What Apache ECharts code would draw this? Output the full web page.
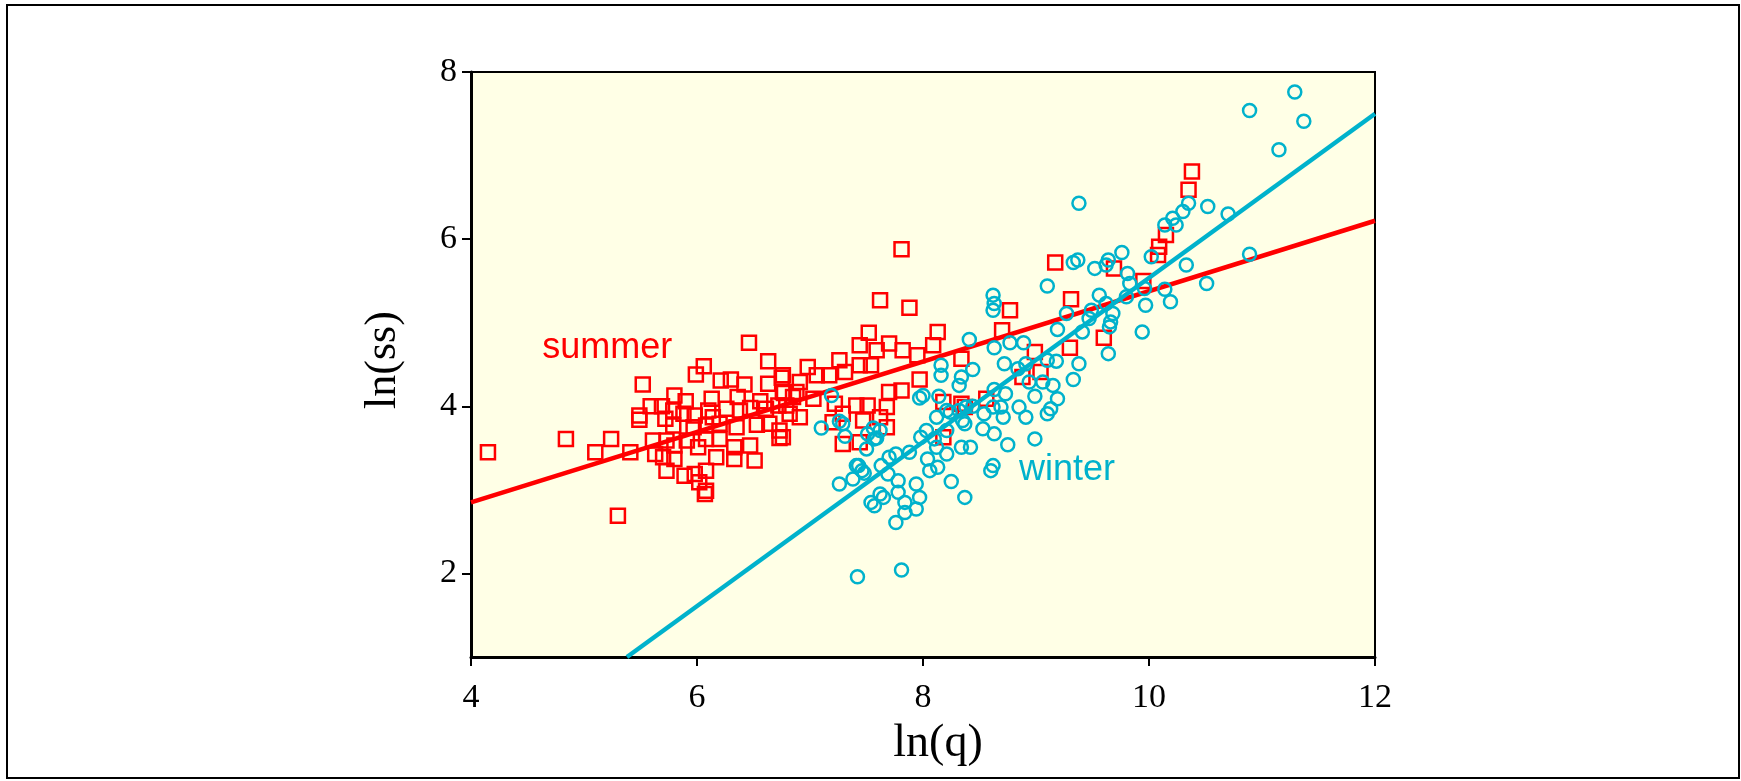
<!DOCTYPE html>
<html>
<head>
<meta charset="utf-8">
<script src="https://cdn.jsdelivr.net/npm/echarts@6/dist/echarts.min.js"></script>
<style>
html,body{margin:0;padding:0;background:#fff;}
#chart{width:1741px;height:781px;}
</style>
</head>
<body>
<div id="chart"></div>
<script>
const xTicks = [4, 6, 8, 10, 12];
const yTicks = [2, 4, 6, 8];
const xTitle = 'ln(q)';
const yTitle = 'ln(ss)';
const summerLabel = 'summer';
const winterLabel = 'winter';

const summerPoints = [
[4.15,3.45],[4.84,3.61],[5.10,3.45],[5.24,3.61],[5.30,2.69],[5.41,3.45],[5.52,4.26],[5.49,3.89],[5.49,3.84],
[5.59,4.00],[5.61,3.59],[5.63,3.43],[5.69,4.00],[5.72,3.85],[5.70,3.39],[5.73,3.59],[5.73,3.23],[5.79,3.95],
[5.79,3.77],[5.80,4.13],[5.80,3.53],[5.80,3.37],[5.88,3.91],[5.89,3.17],[5.90,4.06],[5.91,3.59],[5.97,3.75],
[5.98,3.89],[5.98,3.19],[5.99,4.38],[6.01,3.51],[6.02,3.09],[6.06,4.48],[6.07,2.95],[6.08,2.99],[6.08,3.77],
[6.08,3.61],[6.08,3.23],[6.10,3.95],[6.13,4.09],[6.14,3.87],[6.17,3.39],[6.20,3.79],[6.20,3.61],[6.21,4.31],
[6.26,3.97],[6.30,4.32],[6.33,3.51],[6.33,3.37],[6.35,3.75],[6.36,4.11],[6.38,3.95],[6.42,4.26],[6.46,4.76],
[6.47,3.98],[6.47,3.53],[6.51,3.35],[6.53,3.78],[6.56,4.06],[6.61,3.97],[6.63,4.54],[6.63,4.27],[6.64,3.79],
[6.72,4.01],[6.73,3.71],[6.73,3.62],[6.75,4.34],[6.76,4.37],[6.76,4.17],[6.76,3.63],[6.77,4.16],[6.79,4.01],
[6.82,3.91],[6.85,4.11],[6.88,4.17],[6.91,4.29],[6.91,3.87],[6.98,4.47],[7.03,4.09],[7.06,4.37],[7.17,4.37],
[7.20,3.81],[7.22,4.03],[7.26,4.55],[7.29,3.91],[7.29,3.55],[7.31,4.41],[7.41,4.01],[7.44,4.73],[7.44,4.49],
[7.44,3.57],[7.47,3.83],[7.51,4.01],[7.52,4.88],[7.54,4.49],[7.59,4.67],[7.62,5.27],[7.62,3.87],[7.68,3.99],
[7.68,3.75],[7.70,4.75],[7.70,4.17],[7.81,5.88],[7.81,4.19],[7.82,4.67],[7.88,5.18],[7.95,4.61],[7.97,4.32],
[8.09,4.73],[8.13,4.89],[8.18,4.05],[8.18,3.63],[8.34,4.57],[8.34,4.03],[8.37,3.99],[8.56,4.09],[8.70,4.91],
[8.77,5.15],[8.88,4.35],[8.99,4.65],[9.04,4.41],[9.17,5.72],[9.30,4.70],[9.31,5.28],[9.60,4.82],[9.69,5.65],
[9.95,5.50],[10.08,5.81],[10.09,5.91],[10.15,6.05],[10.35,6.59],[10.38,6.81]
];

const winterPoints = [
[7.10,3.74],[7.19,4.13],[7.26,3.82],[7.29,3.79],[7.31,3.64],[7.26,3.07],[7.38,3.13],[7.41,3.29],[7.43,3.29],
[7.46,3.23],[7.48,3.20],[7.50,3.49],[7.51,3.67],[7.56,3.74],[7.57,3.61],[7.59,3.62],[7.62,3.71],[7.63,3.29],
[7.69,3.19],[7.70,3.39],[7.76,3.43],[7.88,3.45],[7.62,2.95],[7.65,2.91],[7.54,2.85],[7.57,2.81],[7.78,3.11],
[7.78,2.97],[7.84,2.85],[7.84,2.73],[7.76,2.61],[7.94,3.07],[7.97,2.91],[7.94,2.77],[7.42,1.96],[7.81,2.04],
[7.97,4.10],[8.00,4.13],[8.14,4.12],[7.98,3.63],[8.03,3.71],[8.04,3.37],[8.06,3.23],[8.10,3.61],[8.12,3.87],
[8.12,3.51],[8.13,3.27],[8.16,4.49],[8.16,4.37],[8.21,3.71],[8.21,3.43],[8.21,3.95],[8.24,3.93],[8.25,3.10],
[8.32,4.25],[8.32,3.95],[8.34,4.35],[8.34,3.51],[8.35,3.83],[8.37,3.79],[8.37,2.91],[8.38,3.99],[8.41,4.80],
[8.42,3.51],[8.44,4.44],[8.44,4.00],[8.53,3.73],[8.54,3.91],[8.60,3.23],[8.62,3.29],[8.62,3.99],[8.62,5.33],
[8.63,5.23],[8.62,5.15],[8.63,4.70],[8.63,4.20],[8.63,3.67],[8.69,3.99],[8.71,3.87],[8.72,4.51],[8.73,4.15],
[8.75,3.54],[8.77,4.76],[8.84,4.45],[8.85,3.99],[8.89,4.76],[8.91,4.51],[8.91,3.87],[8.94,4.29],[8.99,4.12],
[8.99,3.61],[9.06,4.29],[9.10,5.44],[9.10,4.55],[9.10,3.91],[9.13,3.97],[9.15,4.25],[9.18,4.54],[9.19,4.92],
[9.19,4.09],[9.27,5.11],[9.33,5.72],[9.37,5.75],[9.33,4.32],[9.38,6.43],[9.38,4.51],[9.41,4.89],[9.47,5.05],
[9.49,5.15],[9.52,5.65],[9.56,5.33],[9.62,5.23],[9.62,5.69],[9.64,5.75],[9.64,4.63],[9.65,4.95],[9.66,5.01],
[9.68,5.11],[9.76,5.84],[9.80,5.31],[9.81,5.59],[9.83,5.47],[9.94,4.89],[9.96,5.41],[9.97,5.21],[10.02,5.79],
[10.14,5.40],[10.14,6.17],[10.19,5.25],[10.21,6.25],[10.24,6.17],[10.30,6.33],[10.33,5.69],[10.35,6.43],
[10.51,5.47],[10.52,6.39],[10.70,6.30],[10.89,5.82],[10.89,7.54],[11.15,7.07],[11.29,7.76],[11.37,7.41]
];

const summerFit = [[4, 2.85], [12, 6.22]];
const winterFit = [[5.38, 1.0], [12, 7.50]];

const summerLabelAt = [4.63, 4.48];
const winterLabelAt = [8.85, 3.02];

const RED = '#FF0000';
const CYAN = '#00B2CC';

const chart = echarts.init(document.getElementById('chart'), null, {renderer: 'canvas'});

const option = {
  animation: false,
  backgroundColor: '#ffffff',
  grid: {
    left: 471, right: 366, top: 72, bottom: 124,
    show: true, backgroundColor: '#FFFFE6', borderColor: '#000', borderWidth: 2
  },
  xAxis: {
    type: 'value', min: 4, max: 12, interval: 2,
    axisLine: {show: true, onZero: false, lineStyle: {color: '#000', width: 3}},
    axisTick: {show: true, length: 9, inside: false, lineStyle: {color: '#000', width: 2}},
    axisLabel: {color: '#000', fontFamily: 'Liberation Serif', fontSize: 34, margin: 24,
      customValues: xTicks},
    splitLine: {show: false}
  },
  yAxis: {
    type: 'value', min: 1, max: 8,
    axisLine: {show: true, onZero: false, lineStyle: {color: '#000', width: 3}},
    axisTick: {show: true, length: 9, inside: false, lineStyle: {color: '#000', width: 2},
      customValues: yTicks},
    axisLabel: {color: '#000', fontFamily: 'Liberation Serif', fontSize: 34, margin: 14,
      customValues: yTicks},
    splitLine: {show: false}
  },
  series: [
    {
      name: 'summer', type: 'scatter', data: summerPoints,
      symbol: 'rect', symbolSize: 14,
      itemStyle: {color: 'rgba(0,0,0,0)', borderColor: RED, borderWidth: 2.5, opacity: 1},
      z: 2
    },
    {
      name: 'summerFit', type: 'line', data: summerFit, showSymbol: false, symbol: 'none',
      lineStyle: {color: RED, width: 4.5}, z: 3
    },
    {
      name: 'winter', type: 'scatter', data: winterPoints,
      symbol: 'circle', symbolSize: 13,
      itemStyle: {color: 'rgba(0,0,0,0)', borderColor: CYAN, borderWidth: 2.5, opacity: 1},
      z: 4
    },
    {
      name: 'winterFit', type: 'line', data: winterFit, showSymbol: false, symbol: 'none',
      lineStyle: {color: CYAN, width: 4.5}, z: 5
    }
  ]
};
chart.setOption(option);

const sPos = chart.convertToPixel({gridIndex: 0}, summerLabelAt);
const wPos = chart.convertToPixel({gridIndex: 0}, winterLabelAt);

chart.setOption({
  graphic: [
    {type: 'rect', shape: {x: 7, y: 5, width: 1732, height: 773}, style: {fill: 'none', stroke: '#000', lineWidth: 2}, silent: true, z: 100},
    {type: 'text', x: sPos[0], y: sPos[1], style: {text: summerLabel, fill: RED, font: '36px "Liberation Sans"', textAlign: 'left', textVerticalAlign: 'bottom'}, z: 50},
    {type: 'text', x: wPos[0], y: wPos[1], style: {text: winterLabel, fill: CYAN, font: '36px "Liberation Sans"', textAlign: 'left', textVerticalAlign: 'bottom'}, z: 50},
    {type: 'text', x: 938, y: 744, style: {text: xTitle, fill: '#000', font: '46px "Liberation Serif"', textAlign: 'center', textVerticalAlign: 'middle'}, z: 50},
    {type: 'text', x: 383, y: 360, rotation: Math.PI / 2, style: {text: yTitle, fill: '#000', font: '44px "Liberation Serif"', textAlign: 'center', textVerticalAlign: 'middle'}, z: 50}
  ]
});
</script>
</body>
</html>
